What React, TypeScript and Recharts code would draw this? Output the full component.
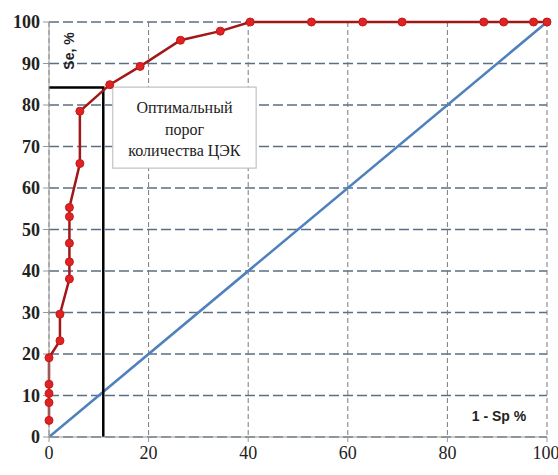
import { LineChart, Line, XAxis, YAxis, CartesianGrid, ReferenceArea } from "recharts";

// ROC curve points (1 - Sp, Se)
const rocX = [0, 0, 0, 0, 0, 2.2, 2.2, 4.1, 4.1, 4.1, 4.1, 4.1, 6.2, 6.2, 12.2, 18.3, 26.4, 34.4, 40.4, 52.7, 63, 70.9, 87.3, 91.3, 97.3, 100];
const rocY = [4.0, 8.3, 10.5, 12.7, 19.1, 23.2, 29.6, 38.1, 42.2, 46.7, 53.1, 55.3, 65.9, 78.5, 84.9, 89.3, 95.6, 97.8, 100, 100, 100, 100, 100, 100, 100, 100];

// reference diagonal
const diagX = [0, 100];
const diagY = [0, 100];

// optimal cut-off marker
const optimalX = 10.9;
const optimalY = 84.2;

// annotation box extent (data units)
const noteX = [12.8, 41.6];
const noteY = [64.8, 84.3];
const noteLines = ["Оптимальный", "порог", "количества ЦЭК"];

const xTicks = [0, 20, 40, 60, 80, 100];
const yTicks = [0, 10, 20, 30, 40, 50, 60, 70, 80, 90, 100];

const rocData = rocX.map((x, i) => ({ x, y: rocY[i] }));
const diagData = diagX.map((x, i) => ({ x, y: diagY[i] }));
const optimalData = [
  { x: 0, y: optimalY },
  { x: optimalX, y: optimalY },
  { x: optimalX, y: 0 },
];

const serif = "Liberation Serif";
const sans = "Liberation Sans";

const XTick = (props: any) => {
  const { x, y, payload } = props;
  return (
    <text x={x} y={y + 15} textAnchor="middle" fontFamily={serif} fontSize={18} fill="#222" style={{ fontFamily: serif }}>
      {payload.value}
    </text>
  );
};

const YTick = (props: any) => {
  const { x, y, payload } = props;
  return (
    <text x={x} y={y + 6} textAnchor="end" fontFamily={serif} fontSize={18} fontWeight="bold" fill="#222" style={{ fontFamily: serif }}>
      {payload.value}
    </text>
  );
};

const NoteLabel = (props: any) => {
  const { viewBox } = props;
  const cx = viewBox.x + viewBox.width / 2;
  return (
    <text
      x={cx}
      y={viewBox.y + 26}
      textAnchor="middle"
      fontFamily={serif}
      fontSize={16}
      style={{ fontFamily: serif }}
      fill="#222"
    >
      {noteLines.map((t, i) => (
        <tspan key={t} x={cx} dy={i === 0 ? 0 : 21.5}>
          {t}
        </tspan>
      ))}
    </text>
  );
};

const App = () => {
  return (
    <div style={{ position: "absolute", left: 0, top: 0, background: "#fff" }}>
      <LineChart width={558} height={475} margin={{ top: 22, right: 11, left: 0, bottom: 0 }}>
        <CartesianGrid vertical={false} stroke="#5a6f82" strokeWidth={1.3} strokeDasharray="10 4" />
        <CartesianGrid horizontal={false} stroke="#7a7a7a" strokeWidth={1} strokeDasharray="5 3" />
        <XAxis
          type="number"
          dataKey="x"
          domain={[0, 100]}
          ticks={xTicks}
          height={38}
          tickSize={5}
          tickMargin={2}
          stroke="#999"
          tick={<XTick />}
        />
        <YAxis
          type="number"
          domain={[0, 100]}
          ticks={yTicks}
          width={49}
          tickSize={6}
          tickMargin={3}
          stroke="#999"
          tick={<YTick />}
        />
        <ReferenceArea
          x1={noteX[0]}
          x2={noteX[1]}
          y1={noteY[0]}
          y2={noteY[1]}
          fill="#fff"
          fillOpacity={1}
          stroke="#c4c4c4"
          strokeWidth={1.2}
          label={<NoteLabel />}
        />
        <Line
          data={diagData}
          dataKey="y"
          stroke="#4f81bd"
          strokeWidth={2.5}
          dot={false}
          isAnimationActive={false}
        />
        <Line
          data={optimalData}
          dataKey="y"
          stroke="#000"
          strokeWidth={2.5}
          dot={false}
          isAnimationActive={false}
        />
        <Line
          data={rocData}
          dataKey="y"
          stroke="#a01818"
          strokeWidth={2.5}
          dot={{ r: 4, fill: "#e02222", stroke: "#c01a1a", strokeWidth: 1, clipDot: false }}
          isAnimationActive={false}
        />
        <text
          x={0}
          y={0}
          transform="translate(74, 51) rotate(-90)"
          textAnchor="middle"
          fontFamily={sans}
          fontWeight="bold"
          fontSize={14}
          fill="#222"
        >
          Se, %
        </text>
        <text
          x={499}
          y={421}
          textAnchor="middle"
          fontFamily={sans}
          fontWeight="bold"
          fontSize={14}
          fill="#222"
        >
          1 - Sp %
        </text>
      </LineChart>
    </div>
  );
};

export default App;
